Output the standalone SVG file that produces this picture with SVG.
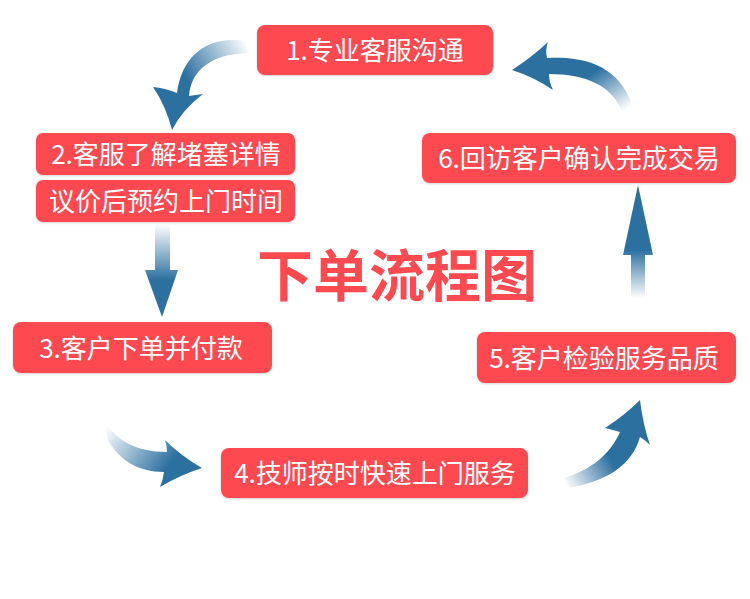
<svg xmlns="http://www.w3.org/2000/svg" width="750" height="599" viewBox="0 0 750 599">
<defs>
<style>
.box{fill:#fd4a50;}
.lbl{fill:#ffffff;font-family:"Noto Sans CJK SC","Noto Sans",sans-serif;font-size:26px;text-anchor:middle;}
.title{fill:#fd4a50;font-family:"Noto Sans CJK SC","Noto Sans",sans-serif;font-size:56px;font-weight:bold;text-anchor:middle;}
</style>
<filter id="sh" x="-10%" y="-20%" width="120%" height="150%">
<feDropShadow dx="0" dy="1" stdDeviation="1.2" flood-color="#000" flood-opacity="0.18"/>
</filter>
<linearGradient id="gA" gradientUnits="userSpaceOnUse" x1="248" y1="44" x2="186" y2="78">
<stop offset="0" stop-color="#2c70a0" stop-opacity="0"/><stop offset="1" stop-color="#2c70a0"/>
</linearGradient>
<linearGradient id="gB" gradientUnits="userSpaceOnUse" x1="600" y1="68" x2="628" y2="108">
<stop offset="0" stop-color="#2c70a0"/><stop offset="1" stop-color="#2c70a0" stop-opacity="0"/>
</linearGradient>
<linearGradient id="gC" gradientUnits="userSpaceOnUse" x1="0" y1="224" x2="0" y2="280">
<stop offset="0" stop-color="#2c70a0" stop-opacity="0"/><stop offset="1" stop-color="#2c70a0"/>
</linearGradient>
<linearGradient id="gD" gradientUnits="userSpaceOnUse" x1="0" y1="250" x2="0" y2="298">
<stop offset="0" stop-color="#2c70a0"/><stop offset="1" stop-color="#2c70a0" stop-opacity="0"/>
</linearGradient>
<linearGradient id="gE" gradientUnits="userSpaceOnUse" x1="108" y1="424" x2="168" y2="466">
<stop offset="0" stop-color="#2c70a0" stop-opacity="0"/><stop offset="1" stop-color="#2c70a0"/>
</linearGradient>
<linearGradient id="gF" gradientUnits="userSpaceOnUse" x1="565" y1="484" x2="610" y2="458">
<stop offset="0" stop-color="#2c70a0" stop-opacity="0"/><stop offset="1" stop-color="#2c70a0"/>
</linearGradient>
</defs>
<rect width="750" height="599" fill="#ffffff"/>
<g id="connectors">
<path fill="url(#gA)" d="M246,41 C208,35 182,55 177,93 Q165,88 153,87 Q166,106 172,130 Q182,110 203,94 Q195,95 189,96 C191,72 209,54 248,53 Z"/>
<path fill="url(#gB)" d="M512,70 Q532,57 548,42 Q545,50 547,58 C582,56 620,64 633,108 L622,111 C612,86 586,74 549,74 Q549,82 553,90 Q534,77 512,70 Z"/>
<path fill="url(#gC)" d="M155,223 L170,223 L170,270 L178,270 L162,317 L145,270 L155,270 Z"/>
<path fill="url(#gD)" d="M638,185 L653,255 L645,255 L645,298 L631,298 L631,255 L623,255 Z"/>
<path fill="url(#gE)" d="M104,421 C116,440 136,452 167,452 Q167,446 165,440 Q181,456 202,468 Q180,475 160,487 Q163,480 164,472 C138,472 119,460 108,440 Z"/>
<path fill="url(#gF)" d="M564,478 C590,470 610,455 620,432 Q613,430 605,428 Q625,415 640,400 Q643,425 650,445 Q645,440 640,437 C632,466 605,482 568,488 Z"/>
</g>
<g id="node1"><rect class="box" filter="url(#sh)" x="257" y="25" width="236" height="50" rx="8"/><text class="lbl" x="375" y="60">1.专业客服沟通</text></g>
<g id="node2a"><rect class="box" filter="url(#sh)" x="36" y="133" width="259" height="42" rx="7"/><text class="lbl" x="166" y="164">2.客服了解堵塞详情</text></g>
<g id="node2b"><rect class="box" filter="url(#sh)" x="36" y="180" width="259" height="42" rx="7"/><text class="lbl" x="166" y="211">议价后预约上门时间</text></g>
<g id="node3"><rect class="box" filter="url(#sh)" x="13" y="322" width="259" height="51" rx="8"/><text class="lbl" x="141" y="357.5">3.客户下单并付款</text></g>
<g id="node4"><rect class="box" filter="url(#sh)" x="221" y="448" width="307" height="50" rx="8"/><text class="lbl" x="375" y="483">4.技师按时快速上门服务</text></g>
<g id="node5"><rect class="box" filter="url(#sh)" x="477" y="332" width="259" height="51" rx="8"/><text class="lbl" x="604" y="367.5">5.客户检验服务品质</text></g>
<g id="node6"><rect class="box" filter="url(#sh)" x="422" y="133" width="314" height="50" rx="8"/><text class="lbl" x="579" y="168">6.回访客户确认完成交易</text></g>
<g id="title"><text class="title" x="397" y="296">下单流程图</text></g>
</svg>
